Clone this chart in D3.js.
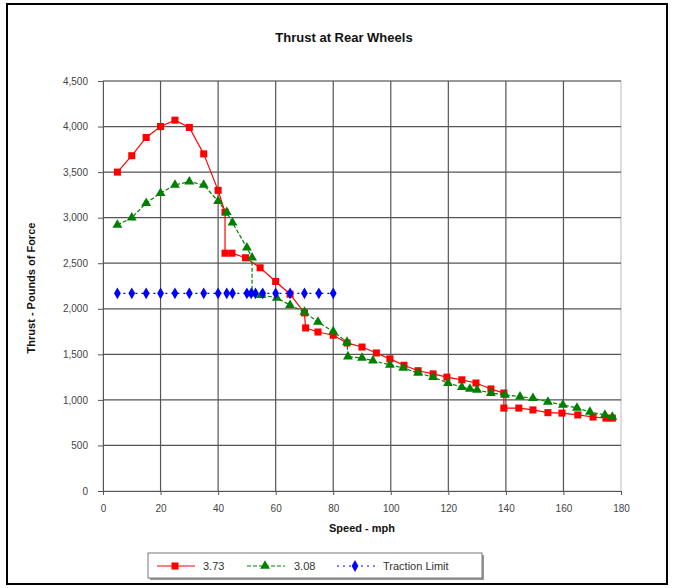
<!DOCTYPE html>
<html>
<head>
<meta charset="utf-8">
<script src="https://cdn.jsdelivr.net/npm/d3@7"></script>
<style>
    body { margin: 0; background: #fff; }
    svg text { font-family: "Liberation Sans", Arial, sans-serif; }
</style>
</head>
<body>
<div id="Thrust_Chart"></div>
<script>
/*  *  *  *  *  *  *  *
*
* THRUST AT REAR WHEELS
*
*/

// gear ratio 3.73
var speed_373 = [5, 10, 15, 20, 25, 30, 35, 40, 42.4, 42.4, 44.8, 49.5, 54.6, 60, 65, 70, 70.4, 74.7, 80, 84.8, 90, 95, 99.7, 104.6, 109.5, 114.7, 119.5, 124.7, 129.6, 134.8, 139.3, 139.3, 144.5, 149.4, 154.6, 159.5, 165, 170.3, 174.8, 177];
var thrust_373 = [3500, 3680, 3880, 4000, 4070, 3990, 3700, 3300, 3060, 2610, 2610, 2560, 2450, 2300, 2160, 1955, 1790, 1745, 1710, 1625, 1580, 1515, 1450, 1380, 1320, 1285, 1250, 1220, 1185, 1120, 1075, 910, 910, 890, 860, 855, 835, 812, 800, 800];

// gear ratio 3.08
var speed_308 = [5, 10, 15, 20, 25, 30, 35, 40, 43, 45, 50, 51.8, 51.8, 55, 60.4, 65, 70, 74.7, 80, 84.8, 85.1, 90, 93.8, 99.7, 104.3, 109.5, 114.7, 119.9, 124.7, 127.5, 130, 134.8, 139.7, 144.9, 149.4, 154.6, 159.8, 164.7, 169.2, 174.4, 177];
var thrust_308 = [2920, 3000, 3160, 3270, 3360, 3395, 3360, 3180, 3060, 2945, 2670, 2560, 2165, 2150, 2120, 2040, 1965, 1855, 1750, 1635, 1475, 1460, 1430, 1385, 1350, 1295, 1250, 1185, 1140, 1120, 1110, 1075, 1055, 1035, 1020, 978, 945, 912, 868, 834, 812];

// traction limit
var speed_traction = [5, 10, 15, 20, 25, 30, 35, 40, 43, 45, 50, 51.5, 53, 55.5, 60, 65, 70, 75, 80];
var thrust_traction = [2170, 2170, 2170, 2170, 2170, 2170, 2170, 2170, 2170, 2170, 2170, 2170, 2170, 2170, 2170, 2170, 2170, 2170, 2170];

var x_ticks = [0, 20, 40, 60, 80, 100, 120, 140, 160, 180];
var y_ticks = [0, 500, 1000, 1500, 2000, 2500, 3000, 3500, 4000, 4500];
var legend_labels = ["3.73", "3.08", "Traction Limit"];

(function () {

    "use strict";

    var width = 674,
        height = 588,
        plot = { left: 103, right: 621, top: 81, bottom: 491 };

    var svg = d3.select("#Thrust_Chart")
        .append("svg")
            .attr("width", width)
            .attr("height", height);

    // outer frame
    svg.append("rect")
        .attr("x", 7).attr("y", 4)
        .attr("width", 660).attr("height", 580)
        .attr("fill", "#fff")
        .attr("stroke", "#000")
        .attr("stroke-width", 2);

    var x = d3.scaleLinear().domain([0, 180]).range([plot.left, plot.right]),
        y = d3.scaleLinear().domain([0, 4500]).range([plot.bottom, plot.top]);

    // title
    svg.append("text")
        .attr("x", 344).attr("y", 42)
        .attr("text-anchor", "middle")
        .attr("font-size", 13)
        .attr("font-weight", "bold")
        .attr("fill", "#111")
        .text("Thrust at Rear Wheels");

    // plot area border
    svg.append("rect")
        .attr("x", plot.left).attr("y", plot.top)
        .attr("width", plot.right - plot.left)
        .attr("height", plot.bottom - plot.top)
        .attr("fill", "none")
        .attr("stroke", "#bbb");

    // gridlines
    svg.append("g")
        .selectAll("line.vgrid")
        .data(x_ticks.slice(1, -1))
        .enter().append("line")
            .attr("x1", function (d) { return x(d); })
            .attr("x2", function (d) { return x(d); })
            .attr("y1", plot.top).attr("y2", plot.bottom)
            .attr("stroke", "#555")
            .attr("stroke-width", 1.2);

    svg.append("g")
        .selectAll("line.hgrid")
        .data(y_ticks.slice(1))
        .enter().append("line")
            .attr("x1", plot.left).attr("x2", plot.right)
            .attr("y1", function (d) { return y(d); })
            .attr("y2", function (d) { return y(d); })
            .attr("stroke", "#555")
            .attr("stroke-width", 1.2);

    // axes
    var x_axis = svg.append("g")
        .attr("transform", "translate(0," + plot.bottom + ")")
        .call(d3.axisBottom(x).tickValues(x_ticks).tickSize(4).tickPadding(10).tickSizeOuter(0));

    var y_axis = svg.append("g")
        .attr("transform", "translate(" + plot.left + ",0)")
        .call(d3.axisLeft(y).tickValues(y_ticks).tickSize(5).tickPadding(10).tickSizeOuter(0)
            .tickFormat(d3.format(",")));

    [x_axis, y_axis].forEach(function (ax) {
        ax.select(".domain").attr("stroke", "#555");
        ax.selectAll(".tick line").attr("stroke", "#555");
        ax.selectAll(".tick text")
            .attr("font-family", "Liberation Sans, Arial, sans-serif")
            .attr("font-size", 10)
            .attr("fill", "#444");
    });

    // axis titles
    svg.append("text")
        .attr("x", 362).attr("y", 532)
        .attr("text-anchor", "middle")
        .attr("font-size", 11)
        .attr("font-weight", "bold")
        .attr("fill", "#111")
        .text("Speed - mph");

    svg.append("text")
        .attr("transform", "translate(35,288) rotate(-90)")
        .attr("text-anchor", "middle")
        .attr("font-size", 11)
        .attr("font-weight", "bold")
        .attr("fill", "#111")
        .text("Thrust - Pounds of Force");

    // series
    var series = [
        { name: legend_labels[0], xs: speed_373, ys: thrust_373, color: "#ff0000", dash: null, shape: d3.symbolSquare, size: 50 },
        { name: legend_labels[1], xs: speed_308, ys: thrust_308, color: "#008000", dash: "4,2", shape: d3.symbolTriangle, size: 42 },
        { name: legend_labels[2], xs: speed_traction, ys: thrust_traction, color: "#0000ff", dash: "2,4", shape: d3.symbolDiamond, size: 40 }
    ];

    var line = d3.line()
        .x(function (d) { return x(d[0]); })
        .y(function (d) { return y(d[1]); });

    series.forEach(function (s) {

        var pts = d3.zip(s.xs, s.ys);

        svg.append("path")
            .datum(pts)
            .attr("d", line)
            .attr("fill", "none")
            .attr("stroke", s.color)
            .attr("stroke-width", 1.2)
            .attr("stroke-dasharray", s.dash);

        svg.append("g")
            .selectAll("path")
            .data(pts)
            .enter().append("path")
                .attr("d", d3.symbol().type(s.shape).size(s.size))
                .attr("transform", function (d) {
                    return "translate(" + x(d[0]) + "," + y(d[1]) + ")";
                })
                .attr("fill", s.color);
    });

    // legend
    var legend = svg.append("g");

    legend.append("rect")
        .attr("x", 150).attr("y", 555)
        .attr("width", 334).attr("height", 25)
        .attr("fill", "#999");

    legend.append("rect")
        .attr("x", 148).attr("y", 553)
        .attr("width", 334).attr("height", 25)
        .attr("fill", "#fff")
        .attr("stroke", "#777");

    var legend_x = [157, 247, 337],
        legend_text_x = [203, 294, 383];

    series.forEach(function (s, i) {

        legend.append("line")
            .attr("x1", legend_x[i]).attr("x2", legend_x[i] + 38)
            .attr("y1", 566).attr("y2", 566)
            .attr("stroke", s.color)
            .attr("stroke-width", 1.2)
            .attr("stroke-dasharray", s.dash);

        legend.append("path")
            .attr("d", d3.symbol().type(s.shape).size(s.size))
            .attr("transform", "translate(" + (legend_x[i] + 18) + ",566)")
            .attr("fill", s.color);

        legend.append("text")
            .attr("x", legend_text_x[i]).attr("y", 570)
            .attr("font-size", 11)
            .attr("fill", "#333")
            .text(s.name);
    });

}());
</script>
</body>
</html>
